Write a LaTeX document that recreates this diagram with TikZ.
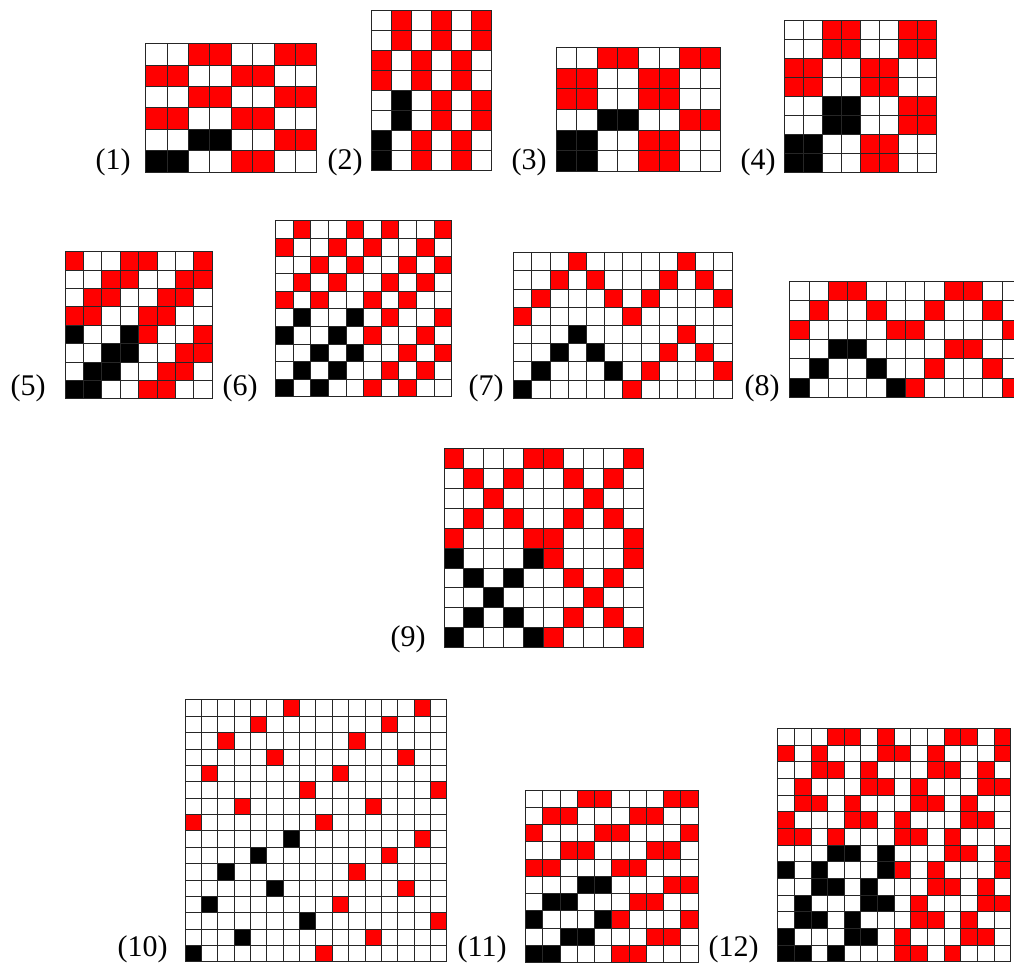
\documentclass[tikz,border=0pt]{standalone}
\usepackage{fontspec}
\setmainfont{Liberation Serif}
\definecolor{wvRed}{HTML}{FF0000}
\colorlet{wvc0}{white}
\colorlet{wvc1}{wvRed}
\colorlet{wvc2}{black}
\tikzset{
  wv cell/.style={draw=black!85, line width=0.4pt},
  wv label/.style={font=\fontsize{12}{14}\selectfont, inner sep=0pt, anchor=base east},
}
% #1,#2 top left corner, #3 cell size, #4 rows from the top
\newcommand{\wvgrid}[4]{%
  \foreach \row [count=\j] in {#4}{\foreach \cl [count=\i] in \row{%
    \filldraw[wv cell, fill=wvc\cl] ({#1+(\i-1)*#3},{#2+(\j-1)*#3}) rectangle ++(#3,#3);}}}

\begin{document}
\begin{tikzpicture}[x=0.4pt,y=-0.4pt]
  \useasboundingbox (0,0) rectangle (1014,970);
  \fill[white] (0,0) rectangle (1014,970);
  % first row
  \wvgrid{145.7}{43.8}{21.4}{{0,0,1,1,0,0,1,1},{1,1,0,0,1,1,0,0},{0,0,1,1,0,0,1,1},{1,1,0,0,1,1,0,0},{0,0,2,2,0,0,1,1},{2,2,0,0,1,1,0,0}}
  \node[wv label] (l1) at (131,170) {(1)};
  \wvgrid{371.7}{10.7}{20}{{0,1,0,1,0,1},{0,1,0,1,0,1},{1,0,1,0,1,0},{1,0,1,0,1,0},{0,2,0,1,0,1},{0,2,0,1,0,1},{2,0,1,0,1,0},{2,0,1,0,1,0}}
  \node[wv label] (l2) at (363,170) {(2)};
  \wvgrid{556}{47.8}{20.6}{{0,0,1,1,0,0,1,1},{1,1,0,0,1,1,0,0},{1,1,0,0,1,1,0,0},{0,0,2,2,0,0,1,1},{2,2,0,0,1,1,0,0},{2,2,0,0,1,1,0,0}}
  \node[wv label] (l3) at (547,170) {(3)};
  \wvgrid{784.3}{20.2}{18.98}{{0,0,1,1,0,0,1,1},{0,0,1,1,0,0,1,1},{1,1,0,0,1,1,0,0},{1,1,0,0,1,1,0,0},{0,0,2,2,0,0,1,1},{0,0,2,2,0,0,1,1},{2,2,0,0,1,1,0,0},{2,2,0,0,1,1,0,0}}
  \node[wv label] (l4) at (776,170) {(4)};
  % second row
  \wvgrid{65}{251.7}{18.4}{{1,0,0,1,1,0,0,1},{0,0,1,1,0,0,1,1},{0,1,1,0,0,1,1,0},{1,1,0,0,1,1,0,0},{2,0,0,2,1,0,0,1},{0,0,2,2,0,0,1,1},{0,2,2,0,0,1,1,0},{2,2,0,0,1,1,0,0}}
  \node[wv label] (l5) at (46,396) {(5)};
  \wvgrid{275.6}{221}{17.6}{{0,1,0,0,1,0,1,0,0,1},{1,0,0,1,0,1,0,0,1,0},{0,0,1,0,1,0,0,1,0,1},{0,1,0,1,0,0,1,0,1,0},{1,0,1,0,0,1,0,1,0,0},{0,2,0,0,2,0,1,0,0,1},{2,0,0,2,0,1,0,0,1,0},{0,0,2,0,2,0,0,1,0,1},{0,2,0,2,0,0,1,0,1,0},{2,0,2,0,0,1,0,1,0,0}}
  \node[wv label] (l6) at (258,396) {(6)};
  \wvgrid{513.7}{252.7}{18.2}{{0,0,0,1,0,0,0,0,0,1,0,0},{0,0,1,0,1,0,0,0,1,0,1,0},{0,1,0,0,0,1,0,1,0,0,0,1},{1,0,0,0,0,0,1,0,0,0,0,0},{0,0,0,2,0,0,0,0,0,1,0,0},{0,0,2,0,2,0,0,0,1,0,1,0},{0,2,0,0,0,2,0,1,0,0,0,1},{2,0,0,0,0,0,1,0,0,0,0,0}}
  \node[wv label] (l7) at (504,396) {(7)};
  \wvgrid{789.7}{281.7}{19.3}{{0,0,1,1,0,0,0,0,1,1,0,0},{0,1,0,0,1,0,0,1,0,0,1,0},{1,0,0,0,0,1,1,0,0,0,0,1},{0,0,2,2,0,0,0,0,1,1,0,0},{0,2,0,0,2,0,0,1,0,0,1,0},{2,0,0,0,0,2,1,0,0,0,0,1}}
  \node[wv label] (l8) at (780,396) {(8)};
  % third row
  \wvgrid{444}{448.7}{19.9}{{1,0,0,0,1,1,0,0,0,1},{0,1,0,1,0,0,1,0,1,0},{0,0,1,0,0,0,0,1,0,0},{0,1,0,1,0,0,1,0,1,0},{1,0,0,0,1,1,0,0,0,1},{2,0,0,0,2,1,0,0,0,1},{0,2,0,2,0,0,1,0,1,0},{0,0,2,0,0,0,0,1,0,0},{0,2,0,2,0,0,1,0,1,0},{2,0,0,0,2,1,0,0,0,1}}
  \node[wv label] (l9) at (426,647) {(9)};
  % fourth row
  \wvgrid{185}{700}{16.37}{{0,0,0,0,0,0,1,0,0,0,0,0,0,0,1,0},{0,0,0,0,1,0,0,0,0,0,0,0,1,0,0,0},{0,0,1,0,0,0,0,0,0,0,1,0,0,0,0,0},{0,0,0,0,0,1,0,0,0,0,0,0,0,1,0,0},{0,1,0,0,0,0,0,0,0,1,0,0,0,0,0,0},{0,0,0,0,0,0,0,1,0,0,0,0,0,0,0,1},{0,0,0,1,0,0,0,0,0,0,0,1,0,0,0,0},{1,0,0,0,0,0,0,0,1,0,0,0,0,0,0,0},{0,0,0,0,0,0,2,0,0,0,0,0,0,0,1,0},{0,0,0,0,2,0,0,0,0,0,0,0,1,0,0,0},{0,0,2,0,0,0,0,0,0,0,1,0,0,0,0,0},{0,0,0,0,0,2,0,0,0,0,0,0,0,1,0,0},{0,2,0,0,0,0,0,0,0,1,0,0,0,0,0,0},{0,0,0,0,0,0,0,2,0,0,0,0,0,0,0,1},{0,0,0,2,0,0,0,0,0,0,0,1,0,0,0,0},{2,0,0,0,0,0,0,0,1,0,0,0,0,0,0,0}}
  \node[wv label] (l10) at (168,957) {(10)};
  \wvgrid{525.7}{790.2}{17.25}{{0,0,0,1,1,0,0,0,1,1},{0,1,1,0,0,0,1,1,0,0},{1,0,0,0,1,1,0,0,0,1},{0,0,1,1,0,0,0,1,1,0},{1,1,0,0,0,1,1,0,0,0},{0,0,0,2,2,0,0,0,1,1},{0,2,2,0,0,0,1,1,0,0},{2,0,0,0,2,1,0,0,0,1},{0,0,2,2,0,0,0,1,1,0},{2,2,0,0,0,1,1,0,0,0}}
  \node[wv label] (l11) at (507,957) {(11)};
  \wvgrid{777.7}{728.7}{16.65}{{0,0,0,1,1,0,1,0,0,0,1,1,0,1},{1,0,1,0,0,0,1,1,0,1,0,0,0,1},{0,0,1,1,0,1,0,0,0,1,1,0,1,0},{0,1,0,0,0,1,1,0,1,0,0,0,1,1},{0,1,1,0,1,0,0,0,1,1,0,1,0,0},{1,0,0,0,1,1,0,1,0,0,0,1,1,0},{1,1,0,1,0,0,0,1,1,0,1,0,0,0},{0,0,0,2,2,0,2,0,0,0,1,1,0,1},{2,0,2,0,0,0,2,1,0,1,0,0,0,1},{0,0,2,2,0,2,0,0,0,1,1,0,1,0},{0,2,0,0,0,2,2,0,1,0,0,0,1,1},{0,2,2,0,2,0,0,0,1,1,0,1,0,0},{2,0,0,0,2,2,0,1,0,0,0,1,1,0},{2,2,0,2,0,0,0,1,1,0,1,0,0,0}}
  \node[wv label] (l12) at (759,957) {(12)};
\end{tikzpicture}
\end{document}
